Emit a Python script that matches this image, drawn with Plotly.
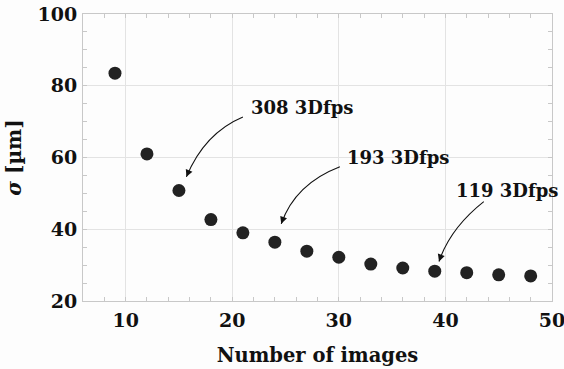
import plotly.graph_objects as go

# Data
n_images = [9, 12, 15, 18, 21, 24, 27, 30, 33, 36, 39, 42, 45, 48]
sigma_um = [83.5, 61.0, 50.8, 42.7, 39.0, 36.4, 33.9, 32.2, 30.3, 29.2, 28.3, 27.9, 27.3, 27.0]

# Annotations: label, text anchor (x, y), arrow tail, curve control, arrow tip
ann_labels = ["308 3Dfps", "193 3Dfps", "119 3Dfps"]
ann_text_x = [21.6, 30.6, 40.8]
ann_text_y = [73.8, 60.0, 50.9]
ann_tail_x = [21.0, 30.1, 43.6]
ann_tail_y = [71.3, 57.4, 47.7]
ann_ctrl_x = [17.4, 25.9, 40.45]
ann_ctrl_y = [66.8, 52.6, 40.3]
ann_tip_x = [15.7, 24.6, 39.4]
ann_tip_y = [54.6, 41.5, 31.0]

FONT = "DejaVu Serif"
GRID = "#e3e3e3"
AXIS = "#c8c8c8"

fig = go.Figure()
fig.add_trace(go.Scatter(
    x=n_images, y=sigma_um, mode="markers",
    marker=dict(size=13, color="#222222"),
    showlegend=False, hoverinfo="x+y",
))

shapes = []
annotations = []
for i, lab in enumerate(ann_labels):
    path = (f"M {ann_tail_x[i]},{ann_tail_y[i]} "
            f"Q {ann_ctrl_x[i]},{ann_ctrl_y[i]} {ann_tip_x[i]},{ann_tip_y[i]}")
    shapes.append(dict(type="path", path=path, xref="x", yref="y",
                       line=dict(color="#111111", width=1.1)))
    # arrowhead along tangent at tip
    hx = ann_tip_x[i] + 0.15 * (ann_ctrl_x[i] - ann_tip_x[i])
    hy = ann_tip_y[i] + 0.15 * (ann_ctrl_y[i] - ann_tip_y[i])
    annotations.append(dict(x=ann_tip_x[i], y=ann_tip_y[i], ax=hx, ay=hy,
                            xref="x", yref="y", axref="x", ayref="y",
                            text="", showarrow=True, arrowhead=2,
                            arrowsize=1.3, arrowwidth=1.1, arrowcolor="#111111"))
    annotations.append(dict(x=ann_text_x[i], y=ann_text_y[i], xref="x", yref="y",
                            text=f"<b>{lab}</b>", showarrow=False,
                            xanchor="left", yanchor="middle",
                            font=dict(family=FONT, size=18, color="#111111")))

fig.update_layout(
    width=564, height=369,
    margin=dict(l=83, r=12, t=14, b=68),
    paper_bgcolor="#fdfdfd", plot_bgcolor="#fdfdfd",
    font=dict(family=FONT, size=19, color="#111111"),
    shapes=shapes, annotations=annotations,
    xaxis=dict(
        range=[6, 50], tickvals=[10, 20, 30, 40, 50],
        ticktext=["<b>10</b>", "<b>20</b>", "<b>30</b>", "<b>40</b>", "<b>50</b>"],
        showgrid=True, gridcolor=GRID, gridwidth=1,
        showline=True, linecolor=AXIS, linewidth=1, mirror="allticks",
        ticks="inside", ticklen=4, tickcolor=AXIS,
        minor=dict(dtick=2, tick0=0, ticks="inside", ticklen=4, tickcolor=AXIS, showgrid=False),
        zeroline=False, ticklabelstandoff=2, ticklabeloverflow="allow",
        automargin=False,
        title=dict(text="<b>Number of images</b>", font=dict(size=19.5), standoff=18),
    ),
    yaxis=dict(
        range=[20, 100], tickvals=[20, 40, 60, 80, 100],
        ticktext=["<b>20</b>", "<b>40</b>", "<b>60</b>", "<b>80</b>", "<b>100</b>"],
        showgrid=True, gridcolor=GRID, gridwidth=1,
        showline=True, linecolor=AXIS, linewidth=1, mirror="allticks",
        ticks="inside", ticklen=4, tickcolor=AXIS,
        minor=dict(dtick=5, tick0=0, ticks="inside", ticklen=4, tickcolor=AXIS, showgrid=False),
        zeroline=False, ticklabelstandoff=1, ticklabeloverflow="allow",
        automargin=False,
        title=dict(text="<b><i>σ</i> [µm]</b>", font=dict(size=20), standoff=10),
    ),
)

fig.write_html(
    "out.html",
    config={"displayModeBar": False},
    post_script="document.body.style.margin='0';document.body.style.background='#fdfdfd';",
)
